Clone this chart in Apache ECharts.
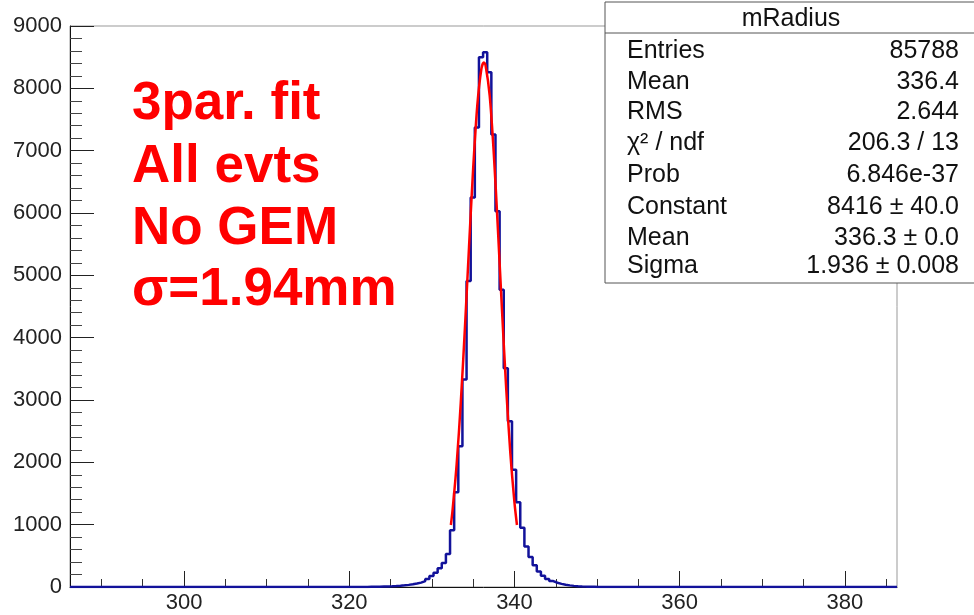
<!DOCTYPE html>
<html>
<head>
<meta charset="utf-8">
<script src="https://cdn.jsdelivr.net/npm/echarts@6/dist/echarts.min.js"></script>
<style>
  html, body { margin: 0; padding: 0; background: #fff; }
  #chart { width: 974px; height: 615px; }
</style>
</head>
<body>
<div id="chart"></div>
<script>
// histogram mRadius, 0.5 wide bins
const xMin = 286.2;
const xMax = 386.3;
const binStart = 320.2;
const binWidth = 0.5;
const counts = [
  1, 1, 2, 2, 3, 4, 5, 7, 9, 12,
  16, 21, 27, 34, 43, 55, 70, 95, 130, 175,
  230, 300, 385, 530, 910, 1520, 2260, 3330, 4910, 6250,
  7370, 8500, 8580, 8260, 7260, 6030, 4770, 3510, 2660, 1880,
  1360, 950, 650, 480, 350, 250, 180, 130, 95, 68,
  50, 36, 26, 18, 13, 9, 6, 4, 3, 2,
  1, 1, 0
];

// gaus fit curve
const fitX = [332.3, 332.5, 333.0, 333.5, 334.0, 334.5, 335.0, 335.5, 336.0, 336.3,
              336.5, 337.0, 337.5, 338.0, 338.5, 339.0, 339.5, 340.0, 340.3];
const fitY = [995, 1226, 1968, 2957, 4155, 5463, 6717, 7727, 8316, 8416,
              8371, 7883, 6945, 5724, 4412, 3182, 2147, 1355, 995];

const xMajorTicks = [300, 320, 340, 360, 380];
const xMinorTicks = [290, 295, 305, 310, 315, 325, 330, 335, 345, 350, 355, 365, 370, 375, 385];

const statsTitle = 'mRadius';
const statsNames = ['Entries', 'Mean', 'RMS', 'χ² / ndf', 'Prob', 'Constant', 'Mean', 'Sigma'];
const statsValues = ['85788', '336.4', '2.644', '206.3 / 13', '6.846e-37', '8416 ± 40.0', '336.3 ± 0.0', '1.936 ± 0.008'];

const noteLines = ['3par. fit', 'All evts', 'No GEM', 'σ=1.94mm'];

const font = '"Liberation Sans", Arial, sans-serif';

let histData = [[xMin, 0]];
counts.forEach((c, i) => histData.push([binStart + i * binWidth, c]));
histData.push([binStart + counts.length * binWidth, 0]);
histData.push([xMax, 0]);

const fitData = fitX.map((x, i) => [x, fitY[i]]);

// stats box + red note
const rowY = [51, 82, 112, 143, 175, 207, 238, 266];
let graphics = [
  {type: 'rect', z: 100, shape: {x: 605, y: 2, width: 380, height: 281},
   style: {fill: '#fff', stroke: '#555', lineWidth: 1}},
  {type: 'line', z: 101, shape: {x1: 605, y1: 33, x2: 974, y2: 33},
   style: {stroke: '#555', lineWidth: 1}},
  {type: 'text', z: 101, x: 791, y: 19,
   style: {text: statsTitle, font: '25px ' + font, fill: '#111', align: 'center', verticalAlign: 'middle'}}
];
statsNames.forEach((n, i) => {
  graphics.push({type: 'text', z: 101, x: 627, y: rowY[i],
    style: {text: n, font: '25px ' + font, fill: '#111', align: 'left', verticalAlign: 'middle'}});
  graphics.push({type: 'text', z: 101, x: 959, y: rowY[i],
    style: {text: statsValues[i], font: '25px ' + font, fill: '#111', align: 'right', verticalAlign: 'middle'}});
});
const noteY = [104, 167, 229, 290];
noteLines.forEach((t, i) => {
  graphics.push({type: 'text', z: 101, x: 132, y: noteY[i],
    style: {text: t, font: 'bold 53px ' + font, fill: '#ff0000', align: 'left', verticalAlign: 'middle'}});
});

const chart = echarts.init(document.getElementById('chart'));
chart.setOption({
  animation: false,
  grid: {
    left: 70, right: 77, top: 26, bottom: 28,
    show: true, borderColor: '#999', borderWidth: 1
  },
  xAxis: [{
    type: 'value', min: xMin, max: xMax,
    axisLine: {show: true, onZero: false, lineStyle: {color: '#111', width: 1}},
    axisTick: {show: true, inside: true, length: 16, customValues: xMajorTicks, lineStyle: {color: '#222'}},
    axisLabel: {customValues: xMajorTicks, color: '#222', fontSize: 22, fontFamily: font, margin: 5},
    splitLine: {show: false}
  }, {
    type: 'value', min: xMin, max: xMax, position: 'bottom',
    axisLine: {show: false},
    axisTick: {show: true, inside: true, length: 8, customValues: xMinorTicks, lineStyle: {color: '#333'}},
    axisLabel: {show: false},
    splitLine: {show: false}
  }],
  yAxis: {
    type: 'value', min: 0, max: 9000, interval: 1000,
    axisLine: {show: true, lineStyle: {color: '#111', width: 1}},
    axisTick: {show: true, inside: true, length: 24, lineStyle: {color: '#222'}},
    minorTick: {show: true, splitNumber: 5, length: 12, lineStyle: {color: '#444'}},
    axisLabel: {color: '#222', fontSize: 22, fontFamily: font, margin: 8,
                formatter: v => String(v)},
    splitLine: {show: false}
  },
  series: [{
    type: 'line',
    step: 'end',
    data: histData,
    showSymbol: false,
    lineStyle: {color: '#12129a', width: 2.5},
    z: 3
  }, {
    type: 'line',
    data: fitData,
    smooth: 0.3,
    showSymbol: false,
    lineStyle: {color: '#ff0000', width: 2.5},
    z: 4
  }],
  graphic: graphics
});
</script>
</body>
</html>
